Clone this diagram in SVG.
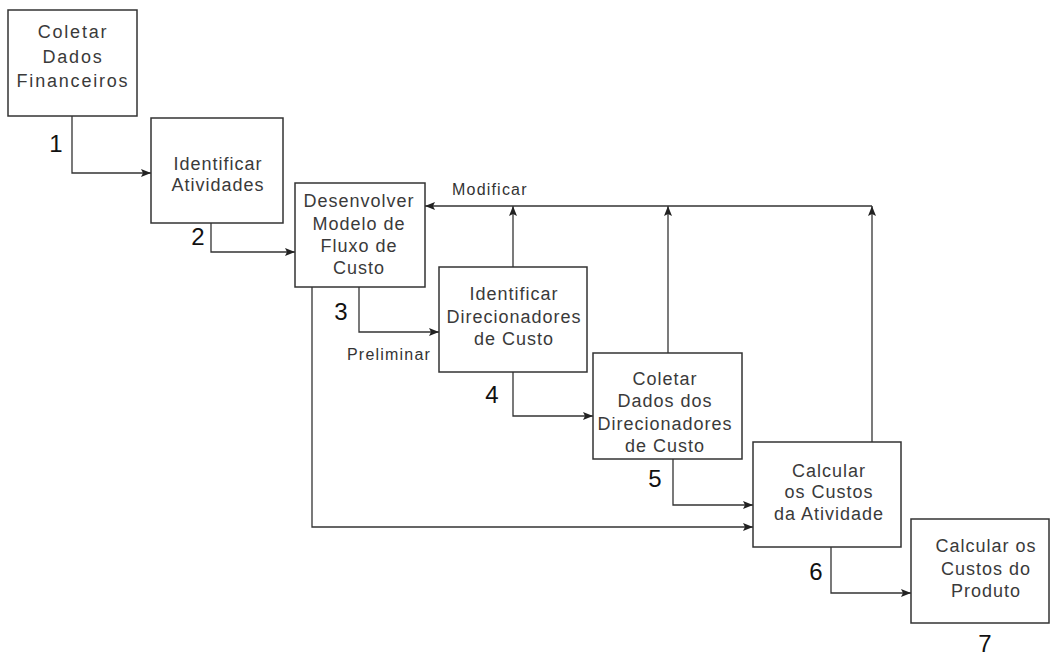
<svg xmlns="http://www.w3.org/2000/svg" width="1051" height="655" viewBox="0 0 1051 655">
<defs>
<marker id="ah" viewBox="0 0 10 8" refX="10" refY="4" markerWidth="10" markerHeight="8" markerUnits="userSpaceOnUse" orient="auto">
<path d="M0,0 L10,4 L0,8 L2,4 Z" fill="#222"/>
</marker>
<style>
.box{fill:#fff;stroke:#333;stroke-width:1.5}
.t{font-family:"Liberation Sans",Arial,sans-serif;font-size:18px;fill:#3a3a3a;text-anchor:middle;letter-spacing:1px}
.w{letter-spacing:1.8px}
.n{font-family:"Liberation Sans",Arial,sans-serif;font-size:24px;fill:#111;text-anchor:middle}
.l{font-family:"Liberation Sans",Arial,sans-serif;font-size:16px;fill:#333;letter-spacing:1.2px}
.c{fill:none;stroke:#333;stroke-width:1.3;marker-end:url(#ah)}
</style>
</defs>
<rect width="1051" height="655" fill="#fff"/>
<g id="connectors">
<path class="c" d="M72,116 V173 H151"/>
<path class="c" d="M211,223 V252 H295"/>
<path class="c" d="M359,287 V332 H439"/>
<path class="c" d="M312,287 V527 H753"/>
<path class="c" d="M513,372 V416 H593"/>
<path class="c" d="M673,459 V505 H753"/>
<path class="c" d="M831,547 V593 H911"/>
<path class="c" d="M513,267 V206"/>
<path class="c" d="M668,353 V206"/>
<path class="c" d="M872,442 V206"/>
<path class="c" d="M872,206 H425"/>
<text class="l" x="452" y="195">Modificar</text>
<text class="l" x="347" y="360">Preliminar</text>
</g>
<g id="node1">
<rect class="box" x="8" y="10" width="129" height="106"/>
<text class="t w" x="73" y="38">Coletar</text>
<text class="t w" x="73" y="63">Dados</text>
<text class="t w" x="73" y="87">Financeiros</text>
<text class="n" x="56" y="152">1</text>
</g>
<g id="node2">
<rect class="box" x="151" y="118" width="132" height="105"/>
<text class="t" x="218" y="170">Identificar</text>
<text class="t" x="218" y="191">Atividades</text>
<text class="n" x="198" y="245">2</text>
</g>
<g id="node3">
<rect class="box" x="295" y="183" width="130" height="104"/>
<text class="t" x="359" y="207">Desenvolver</text>
<text class="t" x="359" y="230">Modelo de</text>
<text class="t" x="359" y="252">Fluxo de</text>
<text class="t" x="359" y="274">Custo</text>
<text class="n" x="341" y="320">3</text>
</g>
<g id="node4">
<rect class="box" x="439" y="267" width="148" height="105"/>
<text class="t" x="514" y="300">Identificar</text>
<text class="t" x="514" y="323">Direcionadores</text>
<text class="t" x="514" y="345">de Custo</text>
<text class="n" x="492" y="403">4</text>
</g>
<g id="node5">
<rect class="box" x="593" y="353" width="149" height="106"/>
<text class="t" x="665" y="385">Coletar</text>
<text class="t" x="665" y="407">Dados dos</text>
<text class="t" x="665" y="430">Direcionadores</text>
<text class="t" x="665" y="452">de Custo</text>
<text class="n" x="655" y="487">5</text>
</g>
<g id="node6">
<rect class="box" x="753" y="442" width="148" height="105"/>
<text class="t" x="829" y="477">Calcular</text>
<text class="t" x="829" y="498">os Custos</text>
<text class="t" x="829" y="520">da Atividade</text>
<text class="n" x="816" y="580">6</text>
</g>
<g id="node7">
<rect class="box" x="911" y="519" width="138" height="104"/>
<text class="t" x="986" y="552">Calcular os</text>
<text class="t" x="986" y="575">Custos do</text>
<text class="t" x="986" y="597">Produto</text>
<text class="n" x="985" y="652">7</text>
</g>
</svg>
